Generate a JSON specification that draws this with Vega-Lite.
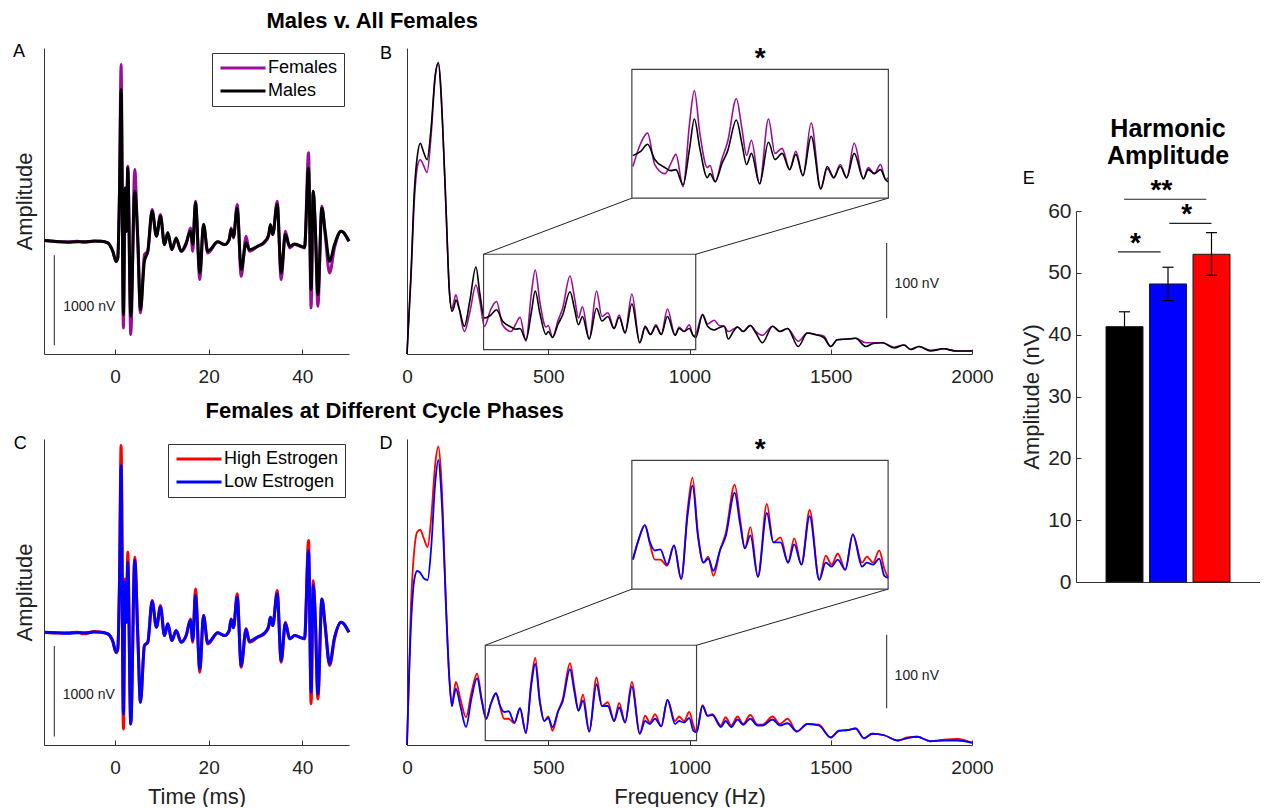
{
"$schema": "https://vega.github.io/schema/vega-lite/v6.json",
"padding": {"left": 12, "top": 10, "right": 0, "bottom": 0},
"config": {
 "font": "Liberation Sans",
 "view": {"stroke": null},
 "axis": {"grid": false, "domainColor": "#333333", "tickColor": "#333333", "labelColor": "#222222", "titleColor": "#222222", "labelFont": "Liberation Sans", "titleFont": "Liberation Sans", "labelFontSize": 19, "titleFontSize": 22, "titleFontWeight": "normal", "labelFlush": false, "labelOverlap": false, "tickSize": -5, "labelPadding": 18, "titlePadding": 9, "format": "d"},
 "title": {"font": "Liberation Sans", "color": "#000000"},
 "text": {"font": "Liberation Sans"}
},
"hconcat": [
 {"vconcat": [
  {"hconcat": [
    {"width": 305, "height": 306,
     "layer": [
      {"data": {"values": [
{"t":-15.1,"Females":7,"Males":7},{"t":-12.5,"Females":-5,"Males":-4},{"t":-10.1,"Females":-7,"Males":-11},{"t":-8,"Females":0,"Males":-5},{"t":-6.6,"Females":-11,"Males":-7},{"t":-4.5,"Females":0,"Males":3},{"t":-3,"Females":0,"Males":0},{"t":-1.57,"Females":-18,"Males":-18},{"t":-0.5,"Females":-111,"Males":-111},{"t":0.21,"Females":-229,"Males":-222},{"t":0.57,"Females":-185,"Males":-185},{"t":0.93,"Females":555,"Males":481},{"t":1.28,"Females":1961,"Males":1684},{"t":1.78,"Females":-962,"Males":-814},{"t":2.14,"Females":592,"Males":592},{"t":2.42,"Females":111,"Males":111},{"t":2.71,"Females":833,"Males":814},{"t":3.35,"Females":-1036,"Males":-833},{"t":4.2,"Females":796,"Males":555},{"t":4.85,"Females":-37,"Males":37},{"t":5.42,"Females":-796,"Males":-759},{"t":6.27,"Females":-148,"Males":-222},{"t":6.99,"Females":-111,"Males":-111},{"t":7.91,"Females":352,"Males":333},{"t":8.84,"Females":56,"Males":56},{"t":9.7,"Females":296,"Males":278},{"t":10.55,"Females":-37,"Males":-37},{"t":11.27,"Females":93,"Males":93},{"t":12.12,"Females":-93,"Males":-93},{"t":13.05,"Females":19,"Males":37},{"t":14.12,"Females":-111,"Males":-111},{"t":15.19,"Females":-37,"Males":-18},{"t":16.11,"Females":148,"Males":111},{"t":16.6,"Females":-111,"Males":-37},{"t":17.18,"Females":444,"Males":426},{"t":18.11,"Females":-426,"Males":-352},{"t":18.9,"Females":185,"Males":185},{"t":19.8,"Females":-130,"Males":-111},{"t":21.96,"Females":-7,"Males":-7},{"t":23.39,"Females":-37,"Males":-37},{"t":24.39,"Females":19,"Males":19},{"t":24.8,"Females":148,"Males":130},{"t":25.3,"Females":37,"Males":50},{"t":26.1,"Females":407,"Males":370},{"t":26.95,"Females":-389,"Males":-315},{"t":28,"Females":56,"Males":-18},{"t":28.7,"Females":-111,"Males":-93},{"t":30.5,"Females":-56,"Males":-56},{"t":31.9,"Females":-18,"Males":-7},{"t":32.8,"Females":56,"Males":67},{"t":33.2,"Females":167,"Males":185},{"t":33.7,"Females":74,"Males":74},{"t":34.65,"Females":444,"Males":407},{"t":35.5,"Females":-426,"Males":-352},{"t":36.4,"Females":111,"Males":74},{"t":37.3,"Females":-74,"Males":-56},{"t":38.4,"Females":-37,"Males":-30},{"t":40.5,"Females":-74,"Males":-67},{"t":41.35,"Females":981,"Males":814},{"t":41.9,"Females":-740,"Males":-537},{"t":42.35,"Females":555,"Males":555},{"t":42.8,"Females":150,"Males":150},{"t":43.35,"Females":-722,"Males":-592},{"t":44.2,"Females":389,"Males":370},{"t":44.9,"Females":74,"Males":111},{"t":45.85,"Females":-352,"Males":-222},{"t":46.9,"Females":-74,"Males":-37},{"t":48.3,"Females":111,"Males":111},{"t":50,"Females":0,"Males":0}
       ]},
       "transform": [{"fold": ["Females", "Males"], "as": ["g", "v"]}],
       "mark": {"type": "line", "strokeWidth": 3, "interpolate": "monotone"},
       "encoding": {
        "x": {"field": "t", "type": "quantitative", "scale": {"domain": [-15.2, 50], "nice": false, "zero": false}, "axis": {"values": [0, 20, 40], "title": null}},
        "y": {"field": "v", "type": "quantitative", "scale": {"domain": [-1252, 2145], "nice": false, "zero": false}, "axis": {"title": "Amplitude", "labels": false, "ticks": false, "titlePadding": 8}},
        "color": {"field": "g", "type": "nominal", "scale": {"domain": ["Females", "Males"], "range": ["#9a0f9a", "#000000"]},
          "legend": {"orient": "none", "legendX": 168, "legendY": 5, "title": null, "symbolType": "M-3,0H3", "symbolSize": 225, "symbolStrokeWidth": 3, "symbolOffset": 16, "labelFontSize": 18, "labelColor": "#000000", "labelFont": "Liberation Sans", "strokeColor": "#333333", "fillColor": "#ffffff", "padding": 6, "rowPadding": 5, "labelOffset": 16}}
       }},
      {"data": {"values": [{"t": -13, "v0": -1155, "v1": -155}]},
       "mark": {"type": "rule", "color": "#222222", "strokeWidth": 1},
       "encoding": {"x": {"field": "t", "type": "quantitative"}, "y": {"field": "v0", "type": "quantitative"}, "y2": {"field": "v1"}}},
      {"data": {"values": [{"t": -11.1, "v": -733, "label": "1000 nV"}]},
       "mark": {"type": "text", "align": "left", "baseline": "middle", "fontSize": 14, "color": "#222222"},
       "encoding": {"x": {"field": "t", "type": "quantitative"}, "y": {"field": "v", "type": "quantitative"}, "text": {"field": "label"}}},
      {"data": {"values": [{"t": -20.55, "v": 2047, "label": "A"}]},
       "mark": {"type": "text", "align": "center", "baseline": "alphabetic", "fontSize": 18, "color": "#000000"},
       "encoding": {"x": {"field": "t", "type": "quantitative"}, "y": {"field": "v", "type": "quantitative"}, "text": {"field": "label"}}},
      {"data": {"values": [{"t": 54.96, "v": 2367, "label": "Males v. All Females"}]},
       "mark": {"type": "text", "align": "center", "baseline": "alphabetic", "fontSize": 22, "fontWeight": "bold", "color": "#000000"},
       "encoding": {"x": {"field": "t", "type": "quantitative"}, "y": {"field": "v", "type": "quantitative"}, "text": {"field": "label"}}}
     ]},
    {"width": 565, "height": 306,
     "resolve": {"scale": {"x": "independent", "y": "independent"}},
     "layer": [
      {"layer": [
       {"data": {"name": "specB"},
        "transform": [{"fold": ["Females", "Males"], "as": ["g", "v"]}],
        "mark": {"type": "line", "strokeWidth": 1.6, "interpolate": "monotone"},
        "encoding": {
         "x": {"field": "f", "type": "quantitative", "scale": {"domain": [0, 2000], "nice": false}, "axis": {"values": [0, 500, 1000, 1500, 2000], "title": null}},
         "y": {"field": "v", "type": "quantitative", "scale": {"domain": [0, 408], "nice": false}, "axis": {"title": null, "labels": false, "ticks": false}},
         "color": {"field": "g", "type": "nominal", "scale": {"domain": ["Females", "Males"], "range": ["#9a0f9a", "#000000"]}, "legend": null}
        }},
       {"data": {"values": [{"f0": 271, "f1": 1022, "v0": 5.8, "v1": 133}]},
        "mark": {"type": "rect", "fillOpacity": 0, "stroke": "#404040", "strokeWidth": 1.2},
        "encoding": {"x": {"field": "f0", "type": "quantitative"}, "x2": {"field": "f1"}, "y": {"field": "v0", "type": "quantitative"}, "y2": {"field": "v1"}}},
       {"data": {"values": [{"f": 271, "v": 133, "f2": 796, "v2": 207.8}, {"f": 1022, "v": 133, "f2": 1704, "v2": 207.8}]},
        "mark": {"type": "rule", "color": "#222222", "strokeWidth": 1},
        "encoding": {"x": {"field": "f", "type": "quantitative"}, "x2": {"field": "f2"}, "y": {"field": "v", "type": "quantitative"}, "y2": {"field": "v2"}}},
       {"data": {"values": [{"f": 1250, "v": 380, "label": "*"}]},
        "mark": {"type": "text", "align": "center", "baseline": "alphabetic", "dy": -2, "fontSize": 28, "fontWeight": "bold", "color": "#000000"},
        "encoding": {"x": {"field": "f", "type": "quantitative"}, "y": {"field": "v", "type": "quantitative"}, "text": {"field": "label"}}},
       {"data": {"values": [{"f": 1698, "v0": 48, "v1": 148}]},
        "mark": {"type": "rule", "color": "#222222", "strokeWidth": 1},
        "encoding": {"x": {"field": "f", "type": "quantitative"}, "y": {"field": "v0", "type": "quantitative"}, "y2": {"field": "v1"}}},
       {"data": {"values": [{"f": 1726, "v": 93, "label": "100 nV"}]},
        "mark": {"type": "text", "align": "left", "baseline": "middle", "fontSize": 14, "color": "#222222"},
        "encoding": {"x": {"field": "f", "type": "quantitative"}, "y": {"field": "v", "type": "quantitative"}, "text": {"field": "label"}}},
       {"data": {"values": [{"f": -74.3, "v": 392.7, "label": "B"}]},
        "mark": {"type": "text", "align": "center", "baseline": "alphabetic", "fontSize": 18, "color": "#000000"},
        "encoding": {"x": {"field": "f", "type": "quantitative"}, "y": {"field": "v", "type": "quantitative"}, "text": {"field": "label"}}}
      ]},
      {"layer": [
       {"data": {"name": "specB"},
        "transform": [{"filter": "datum.f >= 271 && datum.f <= 1022"}, {"fold": ["Females", "Males"], "as": ["g", "v"]}],
        "mark": {"type": "line", "strokeWidth": 1.6, "interpolate": "monotone"},
        "encoding": {
         "x": {"field": "f", "type": "quantitative", "scale": {"domain": [-387.4, 1266.9], "nice": false, "zero": false}, "axis": null},
         "y": {"field": "v", "type": "quantitative", "scale": {"domain": [-148.1, 154.1], "nice": false, "zero": false}, "axis": null},
         "color": {"field": "g", "type": "nominal", "scale": {"domain": ["Females", "Males"], "range": ["#9a0f9a", "#000000"]}, "legend": null}
        }},
       {"data": {"values": [{"f0": 271, "f1": 1022, "v0": 5.8, "v1": 133}]},
        "mark": {"type": "rect", "fillOpacity": 0, "stroke": "#404040", "strokeWidth": 1.2},
        "encoding": {"x": {"field": "f0", "type": "quantitative"}, "x2": {"field": "f1"}, "y": {"field": "v0", "type": "quantitative"}, "y2": {"field": "v1"}}}
      ]}
     ]}
   ],
   "spacing": 58, "bounds": "flush",
   "resolve": {"scale": {"color": "independent"}, "legend": {"color": "independent"}}},
  {"hconcat": [
    {"width": 305, "height": 306,
     "layer": [
      {"data": {"values": [
{"t":-15.1,"High Estrogen":0,"Low Estrogen":0},{"t":-12.5,"High Estrogen":-10,"Low Estrogen":-5},{"t":-10.1,"High Estrogen":-7,"Low Estrogen":-11},{"t":-8,"High Estrogen":0,"Low Estrogen":-5},{"t":-6.6,"High Estrogen":-18,"Low Estrogen":-7},{"t":-4.5,"High Estrogen":7,"Low Estrogen":3},{"t":-3,"High Estrogen":0,"Low Estrogen":0},{"t":-1.57,"High Estrogen":-18,"Low Estrogen":-18},{"t":-0.5,"High Estrogen":-100,"Low Estrogen":-100},{"t":0.21,"High Estrogen":-229,"Low Estrogen":-222},{"t":0.57,"High Estrogen":-185,"Low Estrogen":-185},{"t":0.93,"High Estrogen":555,"Low Estrogen":500},{"t":1.28,"High Estrogen":2072,"Low Estrogen":1850},{"t":1.78,"High Estrogen":-1073,"Low Estrogen":-907},{"t":2.14,"High Estrogen":592,"Low Estrogen":560},{"t":2.42,"High Estrogen":111,"Low Estrogen":111},{"t":2.71,"High Estrogen":888,"Low Estrogen":777},{"t":3.35,"High Estrogen":-1018,"Low Estrogen":-1018},{"t":4.2,"High Estrogen":833,"Low Estrogen":796},{"t":4.85,"High Estrogen":-37,"Low Estrogen":-37},{"t":5.42,"High Estrogen":-777,"Low Estrogen":-777},{"t":6.27,"High Estrogen":-148,"Low Estrogen":-148},{"t":6.99,"High Estrogen":-111,"Low Estrogen":-111},{"t":7.91,"High Estrogen":352,"Low Estrogen":340},{"t":8.84,"High Estrogen":56,"Low Estrogen":56},{"t":9.7,"High Estrogen":296,"Low Estrogen":280},{"t":10.55,"High Estrogen":-37,"Low Estrogen":-37},{"t":11.27,"High Estrogen":93,"Low Estrogen":93},{"t":12.12,"High Estrogen":-93,"Low Estrogen":-93},{"t":13.05,"High Estrogen":19,"Low Estrogen":19},{"t":14.12,"High Estrogen":-111,"Low Estrogen":-111},{"t":15.19,"High Estrogen":-37,"Low Estrogen":-37},{"t":16.11,"High Estrogen":148,"Low Estrogen":130},{"t":16.6,"High Estrogen":-111,"Low Estrogen":-90},{"t":17.18,"High Estrogen":481,"Low Estrogen":407},{"t":18.11,"High Estrogen":-444,"Low Estrogen":-407},{"t":18.9,"High Estrogen":185,"Low Estrogen":185},{"t":19.8,"High Estrogen":-130,"Low Estrogen":-120},{"t":21.96,"High Estrogen":-7,"Low Estrogen":-7},{"t":23.39,"High Estrogen":-37,"Low Estrogen":-37},{"t":24.39,"High Estrogen":19,"Low Estrogen":19},{"t":24.8,"High Estrogen":148,"Low Estrogen":140},{"t":25.3,"High Estrogen":50,"Low Estrogen":50},{"t":26.1,"High Estrogen":426,"Low Estrogen":389},{"t":26.95,"High Estrogen":-389,"Low Estrogen":-370},{"t":28,"High Estrogen":40,"Low Estrogen":30},{"t":28.7,"High Estrogen":-111,"Low Estrogen":-100},{"t":30.5,"High Estrogen":-56,"Low Estrogen":-50},{"t":31.9,"High Estrogen":-18,"Low Estrogen":-10},{"t":32.8,"High Estrogen":56,"Low Estrogen":60},{"t":33.2,"High Estrogen":167,"Low Estrogen":167},{"t":33.7,"High Estrogen":74,"Low Estrogen":74},{"t":34.65,"High Estrogen":463,"Low Estrogen":426},{"t":35.5,"High Estrogen":-333,"Low Estrogen":-315},{"t":36.4,"High Estrogen":111,"Low Estrogen":100},{"t":37.3,"High Estrogen":-74,"Low Estrogen":-70},{"t":38.4,"High Estrogen":-37,"Low Estrogen":-37},{"t":40.5,"High Estrogen":-74,"Low Estrogen":-70},{"t":41.35,"High Estrogen":1018,"Low Estrogen":907},{"t":41.9,"High Estrogen":-795,"Low Estrogen":-666},{"t":42.35,"High Estrogen":574,"Low Estrogen":518},{"t":42.8,"High Estrogen":150,"Low Estrogen":150},{"t":43.35,"High Estrogen":-740,"Low Estrogen":-685},{"t":44.2,"High Estrogen":370,"Low Estrogen":370},{"t":44.9,"High Estrogen":74,"Low Estrogen":74},{"t":45.85,"High Estrogen":-370,"Low Estrogen":-352},{"t":46.9,"High Estrogen":-74,"Low Estrogen":-60},{"t":48.3,"High Estrogen":111,"Low Estrogen":111},{"t":50,"High Estrogen":0,"Low Estrogen":0}
       ]},
       "transform": [{"fold": ["High Estrogen", "Low Estrogen"], "as": ["g", "v"]}],
       "mark": {"type": "line", "strokeWidth": 3, "interpolate": "monotone"},
       "encoding": {
        "x": {"field": "t", "type": "quantitative", "scale": {"domain": [-15.2, 50], "nice": false, "zero": false}, "axis": {"values": [0, 20, 40], "title": "Time (ms)"}},
        "y": {"field": "v", "type": "quantitative", "scale": {"domain": [-1252, 2145], "nice": false, "zero": false}, "axis": {"title": "Amplitude", "labels": false, "ticks": false, "titlePadding": 8}},
        "color": {"field": "g", "type": "nominal", "scale": {"domain": ["High Estrogen", "Low Estrogen"], "range": ["#ff0000", "#0000ff"]},
          "legend": {"orient": "none", "legendX": 124, "legendY": 5, "title": null, "symbolType": "M-3,0H3", "symbolSize": 225, "symbolStrokeWidth": 3, "symbolOffset": 16, "labelFontSize": 18, "labelColor": "#000000", "labelFont": "Liberation Sans", "strokeColor": "#333333", "fillColor": "#ffffff", "padding": 6, "rowPadding": 5, "labelOffset": 16}}
       }},
      {"data": {"values": [{"t": -13, "v0": -1158, "v1": -152}]},
       "mark": {"type": "rule", "color": "#222222", "strokeWidth": 1},
       "encoding": {"x": {"field": "t", "type": "quantitative"}, "y": {"field": "v0", "type": "quantitative"}, "y2": {"field": "v1"}}},
      {"data": {"values": [{"t": -11.2, "v": -699, "label": "1000 nV"}]},
       "mark": {"type": "text", "align": "left", "baseline": "middle", "fontSize": 14, "color": "#222222"},
       "encoding": {"x": {"field": "t", "type": "quantitative"}, "y": {"field": "v", "type": "quantitative"}, "text": {"field": "label"}}},
      {"data": {"values": [{"t": -20.27, "v": 2036, "label": "C"}]},
       "mark": {"type": "text", "align": "center", "baseline": "alphabetic", "fontSize": 18, "color": "#000000"},
       "encoding": {"x": {"field": "t", "type": "quantitative"}, "y": {"field": "v", "type": "quantitative"}, "text": {"field": "label"}}},
      {"data": {"values": [{"t": 57.63, "v": 2378, "label": "Females at Different Cycle Phases"}]},
       "mark": {"type": "text", "align": "center", "baseline": "alphabetic", "fontSize": 22, "fontWeight": "bold", "color": "#000000"},
       "encoding": {"x": {"field": "t", "type": "quantitative"}, "y": {"field": "v", "type": "quantitative"}, "text": {"field": "label"}}}
     ]},
    {"width": 565, "height": 306,
     "resolve": {"scale": {"x": "independent", "y": "independent"}},
     "layer": [
      {"layer": [
       {"data": {"name": "specD"},
        "transform": [{"fold": ["High Estrogen", "Low Estrogen"], "as": ["g", "v"]}],
        "mark": {"type": "line", "strokeWidth": 1.8, "interpolate": "monotone"},
        "encoding": {
         "x": {"field": "f", "type": "quantitative", "scale": {"domain": [0, 2000], "nice": false}, "axis": {"values": [0, 500, 1000, 1500, 2000], "title": "Frequency (Hz)"}},
         "y": {"field": "v", "type": "quantitative", "scale": {"domain": [0, 408], "nice": false}, "axis": {"title": null, "labels": false, "ticks": false}},
         "color": {"field": "g", "type": "nominal", "scale": {"domain": ["High Estrogen", "Low Estrogen"], "range": ["#ff0000", "#0000ff"]}, "legend": null}
        }},
       {"data": {"values": [{"f0": 277, "f1": 1025, "v0": 5.8, "v1": 133}]},
        "mark": {"type": "rect", "fillOpacity": 0, "stroke": "#404040", "strokeWidth": 1.2},
        "encoding": {"x": {"field": "f0", "type": "quantitative"}, "x2": {"field": "f1"}, "y": {"field": "v0", "type": "quantitative"}, "y2": {"field": "v1"}}},
       {"data": {"values": [{"f": 277, "v": 133, "f2": 796, "v2": 207.8}, {"f": 1025, "v": 133, "f2": 1703, "v2": 207.8}]},
        "mark": {"type": "rule", "color": "#222222", "strokeWidth": 1},
        "encoding": {"x": {"field": "f", "type": "quantitative"}, "x2": {"field": "f2"}, "y": {"field": "v", "type": "quantitative"}, "y2": {"field": "v2"}}},
       {"data": {"values": [{"f": 1250, "v": 380, "label": "*"}]},
        "mark": {"type": "text", "align": "center", "baseline": "alphabetic", "dy": -2, "fontSize": 28, "fontWeight": "bold", "color": "#000000"},
        "encoding": {"x": {"field": "f", "type": "quantitative"}, "y": {"field": "v", "type": "quantitative"}, "text": {"field": "label"}}},
       {"data": {"values": [{"f": 1698, "v0": 49, "v1": 147}]},
        "mark": {"type": "rule", "color": "#222222", "strokeWidth": 1},
        "encoding": {"x": {"field": "f", "type": "quantitative"}, "y": {"field": "v0", "type": "quantitative"}, "y2": {"field": "v1"}}},
       {"data": {"values": [{"f": 1726, "v": 92, "label": "100 nV"}]},
        "mark": {"type": "text", "align": "left", "baseline": "middle", "fontSize": 14, "color": "#222222"},
        "encoding": {"x": {"field": "f", "type": "quantitative"}, "y": {"field": "v", "type": "quantitative"}, "text": {"field": "label"}}},
       {"data": {"values": [{"f": -74.3, "v": 395, "label": "D"}]},
        "mark": {"type": "text", "align": "center", "baseline": "alphabetic", "fontSize": 18, "color": "#000000"},
        "encoding": {"x": {"field": "f", "type": "quantitative"}, "y": {"field": "v", "type": "quantitative"}, "text": {"field": "label"}}}
      ]},
      {"layer": [
       {"data": {"name": "specD"},
        "transform": [{"filter": "datum.f >= 277 && datum.f <= 1025"}, {"fold": ["High Estrogen", "Low Estrogen"], "as": ["g", "v"]}],
        "mark": {"type": "line", "strokeWidth": 1.8, "interpolate": "monotone"},
        "encoding": {
         "x": {"field": "f", "type": "quantitative", "scale": {"domain": [-379.4, 1269.9], "nice": false, "zero": false}, "axis": null},
         "y": {"field": "v", "type": "quantitative", "scale": {"domain": [-148.1, 154.1], "nice": false, "zero": false}, "axis": null},
         "color": {"field": "g", "type": "nominal", "scale": {"domain": ["High Estrogen", "Low Estrogen"], "range": ["#ff0000", "#0000ff"]}, "legend": null}
        }},
       {"data": {"values": [{"f0": 277, "f1": 1025, "v0": 5.8, "v1": 133}]},
        "mark": {"type": "rect", "fillOpacity": 0, "stroke": "#404040", "strokeWidth": 1.2},
        "encoding": {"x": {"field": "f0", "type": "quantitative"}, "x2": {"field": "f1"}, "y": {"field": "v0", "type": "quantitative"}, "y2": {"field": "v1"}}}
      ]}
     ]}
   ],
   "spacing": 58, "bounds": "flush",
   "resolve": {"scale": {"color": "independent"}, "legend": {"color": "independent"}}}
 ],
 "spacing": 14,
 "resolve": {"scale": {"color": "independent"}, "legend": {"color": "independent"}}},
 {"vconcat": [
  {"width": 1, "height": 1, "data": {"values": [{}]}, "mark": {"type": "point", "opacity": 0}},
  {"width": 184, "height": 371,
   "layer": [
    {"data": {"name": "bars"},
     "mark": {"type": "bar", "size": 37, "stroke": "#1a1a1a", "strokeWidth": 1},
     "encoding": {
      "x": {"field": "pos", "type": "quantitative", "scale": {"domain": [0, 4], "nice": false}, "axis": {"labels": false, "ticks": false, "title": null}},
      "y": {"field": "mean", "type": "quantitative", "scale": {"domain": [0, 60], "nice": false}, "axis": {"values": [0, 10, 20, 30, 40, 50, 60], "title": "Amplitude (nV)", "labelFontSize": 21, "labelPadding": 10, "titlePadding": 4}},
      "color": {"field": "grp", "type": "nominal", "scale": {"domain": ["Males", "Low Estrogen", "High Estrogen"], "range": ["#000000", "#0000ff", "#ff0000"]}, "legend": null}
     }},
    {"data": {"name": "bars"},
     "mark": {"type": "rule", "color": "#000000", "strokeWidth": 1.2},
     "encoding": {"x": {"field": "pos", "type": "quantitative"}, "y": {"field": "lo", "type": "quantitative"}, "y2": {"field": "hi"}}},
    {"data": {"name": "bars"},
     "mark": {"type": "point", "shape": "stroke", "size": 121, "filled": false, "color": "#000000", "strokeWidth": 1.2, "opacity": 1},
     "encoding": {"x": {"field": "pos", "type": "quantitative"}, "y": {"field": "lo", "type": "quantitative"}}},
    {"data": {"name": "bars"},
     "mark": {"type": "point", "shape": "stroke", "size": 121, "filled": false, "color": "#000000", "strokeWidth": 1.2, "opacity": 1},
     "encoding": {"x": {"field": "pos", "type": "quantitative"}, "y": {"field": "hi", "type": "quantitative"}}},
    {"data": {"name": "sig"},
     "mark": {"type": "rule", "color": "#222222", "strokeWidth": 1.2},
     "encoding": {"x": {"field": "x1", "type": "quantitative"}, "x2": {"field": "x2"}, "y": {"field": "y", "type": "quantitative"}}},
    {"data": {"name": "sig"},
     "mark": {"type": "text", "align": "center", "baseline": "alphabetic", "dy": 0, "fontSize": 28, "fontWeight": "bold", "color": "#000000"},
     "encoding": {"x": {"field": "tx", "type": "quantitative"}, "y": {"field": "y", "type": "quantitative"}, "text": {"field": "label"}}},
    {"data": {"values": [{"x": -1.2, "y": 64.3, "label": "E"}]},
     "mark": {"type": "text", "align": "center", "baseline": "alphabetic", "fontSize": 18, "color": "#000000"},
     "encoding": {"x": {"field": "x", "type": "quantitative"}, "y": {"field": "y", "type": "quantitative"}, "text": {"field": "label"}}},
    {"data": {"values": [{"x": 2, "y": 71.9, "label": "Harmonic"}, {"x": 2, "y": 67.6, "label": "Amplitude"}]},
     "mark": {"type": "text", "align": "center", "baseline": "alphabetic", "fontSize": 25, "fontWeight": "bold", "color": "#000000"},
     "encoding": {"x": {"field": "x", "type": "quantitative"}, "y": {"field": "y", "type": "quantitative"}, "text": {"field": "label"}}}
   ]}
 ],
 "spacing": 65}
],
"spacing": 26,
"resolve": {"scale": {"color": "independent"}, "legend": {"color": "independent"}},
"datasets": {
 "bars": [
  {"grp": "Males", "pos": 1, "mean": 41.3, "lo": 38.9, "hi": 43.7},
  {"grp": "Low Estrogen", "pos": 2, "mean": 48.2, "lo": 45.5, "hi": 50.9},
  {"grp": "High Estrogen", "pos": 3, "mean": 53.0, "lo": 49.6, "hi": 56.5}
 ],
 "sig": [
  {"x1": 0.85, "x2": 1.83, "y": 53.4, "tx": 1.25, "label": "*"},
  {"x1": 0.99, "x2": 2.88, "y": 61.9, "tx": 1.85, "label": "**"},
  {"x1": 2.03, "x2": 3.0, "y": 58.0, "tx": 2.43, "label": "*"}
 ],
 "specB": [
{"f":0,"Females":0,"Males":0},{"f":14,"Females":100,"Males":106},{"f":26,"Females":205,"Males":217},{"f":38,"Females":252,"Males":268},{"f":47,"Females":259,"Males":281},{"f":58,"Females":252,"Males":270},{"f":71,"Females":242,"Males":259},{"f":85,"Females":290,"Males":300},{"f":100,"Females":370,"Males":372},{"f":111,"Females":389,"Males":388},{"f":120,"Females":355,"Males":350},{"f":126,"Females":306,"Males":306},{"f":138,"Females":195,"Males":195},{"f":150,"Females":84,"Males":84},{"f":159,"Females":60,"Males":57},{"f":166,"Females":70,"Males":62},{"f":173,"Females":79,"Males":72},{"f":185,"Females":60,"Males":60},{"f":203,"Females":30,"Males":37},{"f":222,"Females":55,"Males":70},{"f":244,"Females":92,"Males":116},{"f":258,"Females":70,"Males":80},{"f":274,"Females":37,"Males":48},{"f":297,"Females":60,"Males":52},{"f":317,"Females":70,"Males":59},{"f":338,"Females":39,"Males":44},{"f":368,"Females":30,"Males":36},{"f":385,"Females":40,"Males":33},{"f":400,"Females":49,"Males":34},{"f":421,"Females":17,"Males":19},{"f":440,"Females":80,"Males":55},{"f":454,"Females":112,"Males":84},{"f":470,"Females":70,"Males":55},{"f":492,"Females":36,"Males":26},{"f":500,"Females":38,"Males":30},{"f":515,"Females":22,"Males":22},{"f":535,"Females":45,"Males":40},{"f":551,"Females":61,"Males":52},{"f":577,"Females":104,"Males":83},{"f":593,"Females":75,"Males":60},{"f":607,"Females":48,"Males":39},{"f":621,"Females":63,"Males":50},{"f":645,"Females":20,"Males":20},{"f":671,"Females":84,"Males":61},{"f":690,"Females":50,"Males":44},{"f":711,"Females":55,"Males":50},{"f":733,"Females":34,"Males":34},{"f":751,"Females":52,"Males":49},{"f":772,"Females":28,"Males":28},{"f":796,"Females":80,"Males":67},{"f":824,"Females":15,"Males":15},{"f":843,"Females":35,"Males":37},{"f":862,"Females":26,"Males":26},{"f":881,"Females":39,"Males":37},{"f":900,"Females":26,"Males":26},{"f":922,"Females":60,"Males":50},{"f":949,"Females":25,"Males":25},{"f":963,"Females":36,"Males":34},{"f":981,"Females":30,"Males":30},{"f":999,"Females":39,"Males":34},{"f":1014,"Females":24,"Males":24},{"f":1022,"Females":26,"Males":22},{"f":1046,"Females":53,"Males":52},{"f":1064,"Females":40,"Males":37},{"f":1087,"Females":45,"Males":32},{"f":1105,"Females":38,"Males":35},{"f":1123,"Females":37,"Males":37},{"f":1137,"Females":30,"Males":20},{"f":1155,"Females":33,"Males":30},{"f":1170,"Females":36,"Males":36},{"f":1190,"Females":30,"Males":30},{"f":1215,"Females":38,"Males":38},{"f":1235,"Females":30,"Males":28},{"f":1258,"Females":25,"Males":15},{"f":1294,"Females":37,"Males":37},{"f":1320,"Females":30,"Males":30},{"f":1347,"Females":34,"Males":34},{"f":1385,"Females":17,"Males":10},{"f":1417,"Females":28,"Males":28},{"f":1445,"Females":26,"Males":26},{"f":1475,"Females":24,"Males":22},{"f":1500,"Females":10,"Males":10},{"f":1523,"Females":19,"Males":19},{"f":1560,"Females":20,"Males":20},{"f":1588,"Females":21,"Males":21},{"f":1624,"Females":15,"Males":10},{"f":1650,"Females":15,"Males":14},{"f":1683,"Females":15,"Males":15},{"f":1724,"Females":9,"Males":8},{"f":1759,"Females":12,"Males":12},{"f":1783,"Females":6,"Males":6},{"f":1812,"Females":10,"Males":10},{"f":1853,"Females":5,"Males":4},{"f":1900,"Females":7,"Males":7},{"f":1942,"Females":4,"Males":4},{"f":2000,"Females":4,"Males":4}
 ],
 "specD": [
{"f":0,"High Estrogen":0,"Low Estrogen":0},{"f":14,"High Estrogen":186,"Low Estrogen":159},{"f":26,"High Estrogen":261,"Low Estrogen":221},{"f":36,"High Estrogen":284,"Low Estrogen":232},{"f":46,"High Estrogen":287,"Low Estrogen":230},{"f":60,"High Estrogen":275,"Low Estrogen":222},{"f":73,"High Estrogen":264,"Low Estrogen":220},{"f":85,"High Estrogen":300,"Low Estrogen":260},{"f":100,"High Estrogen":375,"Low Estrogen":350},{"f":111,"High Estrogen":398,"Low Estrogen":380},{"f":120,"High Estrogen":365,"Low Estrogen":345},{"f":126,"High Estrogen":319,"Low Estrogen":301},{"f":138,"High Estrogen":186,"Low Estrogen":186},{"f":150,"High Estrogen":88,"Low Estrogen":88},{"f":159,"High Estrogen":52,"Low Estrogen":52},{"f":166,"High Estrogen":70,"Low Estrogen":65},{"f":173,"High Estrogen":84,"Low Estrogen":75},{"f":190,"High Estrogen":60,"Low Estrogen":50},{"f":209,"High Estrogen":37,"Low Estrogen":24},{"f":228,"High Estrogen":70,"Low Estrogen":62},{"f":248,"High Estrogen":95,"Low Estrogen":89},{"f":265,"High Estrogen":60,"Low Estrogen":58},{"f":280,"High Estrogen":35,"Low Estrogen":35},{"f":297,"High Estrogen":55,"Low Estrogen":55},{"f":315,"High Estrogen":69,"Low Estrogen":69},{"f":330,"High Estrogen":50,"Low Estrogen":52},{"f":344,"High Estrogen":35,"Low Estrogen":44},{"f":360,"High Estrogen":35,"Low Estrogen":45},{"f":380,"High Estrogen":29,"Low Estrogen":30},{"f":400,"High Estrogen":49,"Low Estrogen":49},{"f":421,"High Estrogen":16,"Low Estrogen":16},{"f":440,"High Estrogen":85,"Low Estrogen":80},{"f":454,"High Estrogen":116,"Low Estrogen":108},{"f":470,"High Estrogen":60,"Low Estrogen":58},{"f":486,"High Estrogen":32,"Low Estrogen":32},{"f":500,"High Estrogen":38,"Low Estrogen":36},{"f":515,"High Estrogen":19,"Low Estrogen":24},{"f":535,"High Estrogen":45,"Low Estrogen":45},{"f":551,"High Estrogen":61,"Low Estrogen":58},{"f":577,"High Estrogen":109,"Low Estrogen":101},{"f":593,"High Estrogen":75,"Low Estrogen":70},{"f":607,"High Estrogen":46,"Low Estrogen":46},{"f":623,"High Estrogen":67,"Low Estrogen":59},{"f":645,"High Estrogen":18,"Low Estrogen":18},{"f":671,"High Estrogen":90,"Low Estrogen":81},{"f":690,"High Estrogen":52,"Low Estrogen":52},{"f":711,"High Estrogen":57,"Low Estrogen":52},{"f":733,"High Estrogen":32,"Low Estrogen":32},{"f":751,"High Estrogen":56,"Low Estrogen":50},{"f":772,"High Estrogen":30,"Low Estrogen":30},{"f":796,"High Estrogen":84,"Low Estrogen":78},{"f":824,"High Estrogen":15,"Low Estrogen":15},{"f":843,"High Estrogen":39,"Low Estrogen":32},{"f":860,"High Estrogen":30,"Low Estrogen":28},{"f":878,"High Estrogen":41,"Low Estrogen":35},{"f":900,"High Estrogen":25,"Low Estrogen":25},{"f":922,"High Estrogen":60,"Low Estrogen":60},{"f":949,"High Estrogen":32,"Low Estrogen":28},{"f":963,"High Estrogen":38,"Low Estrogen":32},{"f":981,"High Estrogen":32,"Low Estrogen":30},{"f":999,"High Estrogen":44,"Low Estrogen":36},{"f":1014,"High Estrogen":26,"Low Estrogen":19},{"f":1025,"High Estrogen":17,"Low Estrogen":17},{"f":1046,"High Estrogen":53,"Low Estrogen":52},{"f":1064,"High Estrogen":39,"Low Estrogen":39},{"f":1081,"High Estrogen":41,"Low Estrogen":40},{"f":1111,"High Estrogen":26,"Low Estrogen":24},{"f":1128,"High Estrogen":37,"Low Estrogen":32},{"f":1148,"High Estrogen":26,"Low Estrogen":24},{"f":1170,"High Estrogen":38,"Low Estrogen":34},{"f":1190,"High Estrogen":28,"Low Estrogen":27},{"f":1215,"High Estrogen":40,"Low Estrogen":35},{"f":1241,"High Estrogen":27,"Low Estrogen":26},{"f":1258,"High Estrogen":27,"Low Estrogen":26},{"f":1294,"High Estrogen":38,"Low Estrogen":34},{"f":1320,"High Estrogen":28,"Low Estrogen":26},{"f":1347,"High Estrogen":35,"Low Estrogen":29},{"f":1380,"High Estrogen":18,"Low Estrogen":18},{"f":1417,"High Estrogen":28,"Low Estrogen":28},{"f":1458,"High Estrogen":27,"Low Estrogen":26},{"f":1500,"High Estrogen":10,"Low Estrogen":10},{"f":1529,"High Estrogen":19,"Low Estrogen":19},{"f":1560,"High Estrogen":20,"Low Estrogen":20},{"f":1588,"High Estrogen":22,"Low Estrogen":22},{"f":1618,"High Estrogen":9,"Low Estrogen":9},{"f":1647,"High Estrogen":15,"Low Estrogen":15},{"f":1689,"High Estrogen":13,"Low Estrogen":13},{"f":1738,"High Estrogen":6,"Low Estrogen":6},{"f":1770,"High Estrogen":10,"Low Estrogen":9},{"f":1806,"High Estrogen":11,"Low Estrogen":11},{"f":1853,"High Estrogen":5,"Low Estrogen":5},{"f":1900,"High Estrogen":7,"Low Estrogen":6},{"f":1948,"High Estrogen":8,"Low Estrogen":6},{"f":2000,"High Estrogen":3,"Low Estrogen":3}
 ]
}
}
